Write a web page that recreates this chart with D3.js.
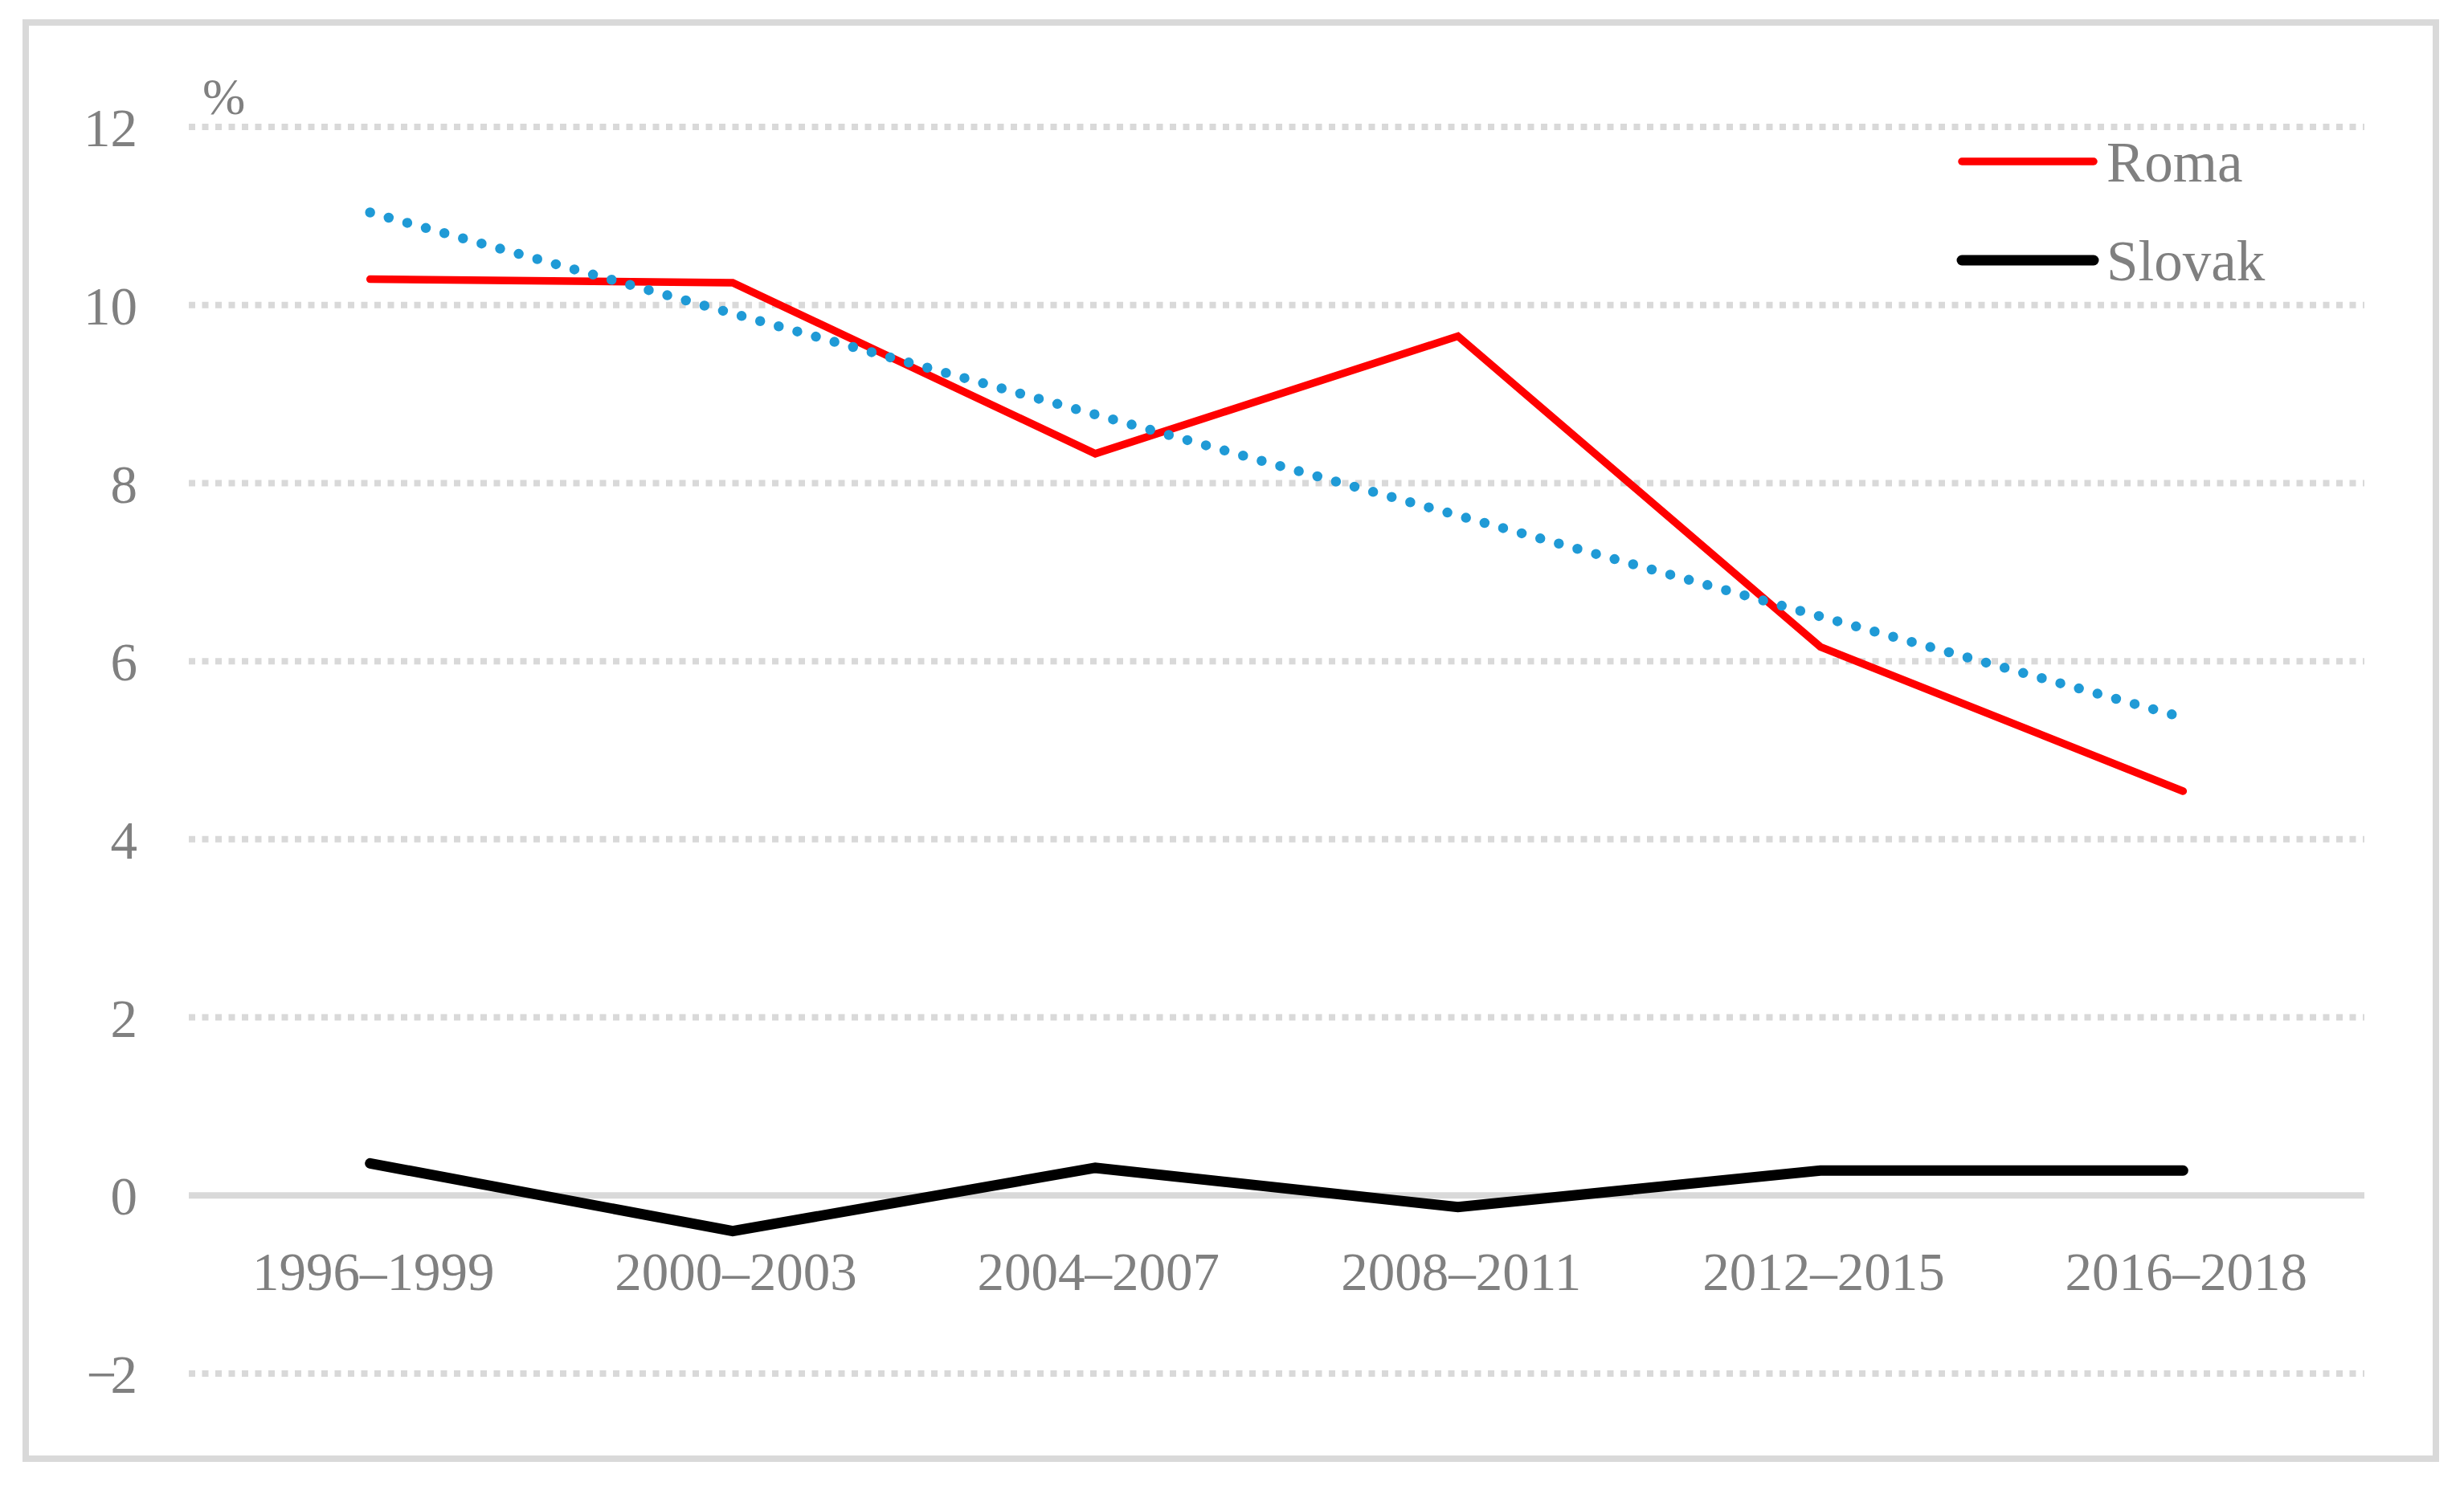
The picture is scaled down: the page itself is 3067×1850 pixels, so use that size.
<!DOCTYPE html>
<html>
<head>
<meta charset="utf-8">
<script src="https://cdn.jsdelivr.net/npm/d3@7"></script>
<style>
  body { margin: 0; background: #fff; }
  text { font-family: "Liberation Serif", "DejaVu Serif", serif; fill: #808080; }
</style>
</head>
<body>
<svg id="chart" width="3067" height="1850"></svg>
<script>
// data
var periods = ["1996–1999", "2000–2003", "2004–2007", "2008–2011", "2012–2015", "2016–2018"];
var roma = [10.29, 10.25, 8.33, 9.65, 6.16, 4.54];
var slovak = [0.36, -0.40, 0.31, -0.13, 0.28, 0.28];
var yTicks = [-2, 0, 2, 4, 6, 8, 10, 12];

var svg = d3.select("#chart");

// outer frame
svg.append("rect")
  .attr("x", 32).attr("y", 28)
  .attr("width", 3000).attr("height", 1788)
  .attr("fill", "#fff")
  .attr("stroke", "#d9d9d9")
  .attr("stroke-width", 8);

var x = d3.scalePoint()
  .domain(periods)
  .range([235, 2943])
  .padding(0.5);

var y = d3.scaleLinear()
  .domain([-2, 12])
  .range([1710, 158]);

// gridlines
svg.append("g")
  .selectAll("line")
  .data(yTicks)
  .enter().append("line")
    .attr("x1", 235)
    .attr("x2", 2943)
    .attr("y1", function(d) { return y(d); })
    .attr("y2", function(d) { return y(d); })
    .attr("stroke", "#d9d9d9")
    .attr("stroke-width", 8)
    .attr("stroke-dasharray", function(d) { return d == 0 ? null : "8 8.5"; });

// y tick labels (the -2 in the original has its minus squeezed into the 2)
svg.append("g")
  .selectAll("text")
  .data(yTicks)
  .enter().append("text")
    .attr("x", function(d) { return d < 0 ? 171 - 8 : 171; })
    .attr("y", function(d) { return y(d); })
    .attr("dy", "0.36em")
    .attr("text-anchor", "end")
    .attr("font-size", 67)
    .style("letter-spacing", function(d) { return d < 0 ? "-8px" : null; })
    .text(function(d) { return d < 0 ? "\u2212" + Math.abs(d) : d; });

svg.append("text")
  .attr("x", 252)
  .attr("y", 142)
  .attr("font-size", 64)
  .text("%");

// category labels
svg.append("g")
  .selectAll("text")
  .data(periods)
  .enter().append("text")
    .attr("x", function(d) { return x(d) + 4; })
    .attr("y", 1606)
    .attr("text-anchor", "middle")
    .attr("font-size", 67)
    .text(function(d) { return d; });

var line = d3.line()
  .x(function(d, i) { return x(periods[i]); })
  .y(function(d) { return y(d); });

// linear trend of the Roma series (excel-style trendline)
var xs = roma.map(function(d, i) { return i + 1; });
var mx = d3.mean(xs), my = d3.mean(roma);
var sxy = d3.sum(xs, function(v, i) { return (v - mx) * (roma[i] - my); });
var sxx = d3.sum(xs, function(v) { return (v - mx) * (v - mx); });
var slope = sxy / sxx, icpt = my - slope * mx;
var trend = xs.map(function(v) { return icpt + slope * v; });

svg.append("path")
  .datum(roma)
  .attr("d", line)
  .attr("fill", "none")
  .attr("stroke", "#ff0000")
  .attr("stroke-width", 9.5)
  .attr("stroke-linecap", "round");

svg.append("path")
  .datum(trend)
  .attr("d", line)
  .attr("fill", "none")
  .attr("stroke", "#1f9ad6")
  .attr("stroke-width", 12.5)
  .attr("stroke-linecap", "round")
  .attr("stroke-dasharray", "0 24");

svg.append("path")
  .datum(slovak)
  .attr("d", line)
  .attr("fill", "none")
  .attr("stroke", "#000")
  .attr("stroke-width", 13)
  .attr("stroke-linecap", "round");

// legend
var legend = [
  {name: "Roma", color: "#ff0000", w: 9.5, y: 201},
  {name: "Slovak", color: "#000", w: 13, y: 324}
];
var lg = svg.append("g").selectAll("g")
  .data(legend)
  .enter().append("g")
    .attr("transform", function(d) { return "translate(0," + d.y + ")"; });

lg.append("line")
  .attr("x1", 2442).attr("x2", 2606)
  .attr("stroke", function(d) { return d.color; })
  .attr("stroke-width", function(d) { return d.w; })
  .attr("stroke-linecap", "round");

lg.append("text")
  .attr("x", 2622)
  .attr("dy", "0.35em")
  .attr("font-size", 71)
  .text(function(d) { return d.name; });
</script>
</body>
</html>
